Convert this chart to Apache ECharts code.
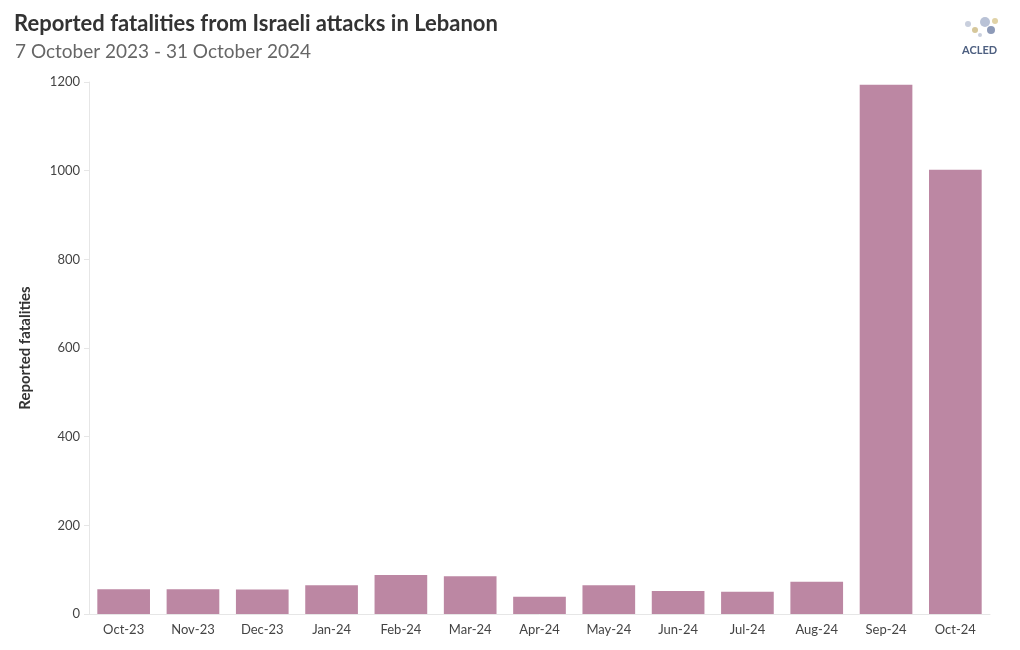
<!DOCTYPE html>
<html>
<head>
<meta charset="utf-8">
<script src="https://cdn.jsdelivr.net/npm/echarts@6/dist/echarts.min.js"></script>
<style>html,body{margin:0;padding:0;background:#fff;}#c{width:1020px;height:650px;}</style>
</head>
<body>
<div id="c"></div>
<script>
const categories = ['Oct-23','Nov-23','Dec-23','Jan-24','Feb-24','Mar-24','Apr-24','May-24','Jun-24','Jul-24','Aug-24','Sep-24','Oct-24'];
const fatalities = [56, 56, 55, 65, 88, 85, 39, 65, 52, 50, 73, 1194, 1002];
const yTicks = [0, 200, 400, 600, 800, 1000, 1200];

const chart = echarts.init(document.getElementById('c'));
chart.setOption({
  backgroundColor: '#ffffff',
  animation: false,
  title: [
    { text: 'Reported fatalities from Israeli attacks in Lebanon', left: 9, top: 8,
      textStyle: { fontFamily: 'Lato', fontWeight: 'bold', fontSize: 22, color: '#333333' } },
    { text: '7 October 2023 - 31 October 2024', left: 10, top: 37,
      textStyle: { fontFamily: 'Lato', fontWeight: 'normal', fontSize: 19, color: '#666666' } }
  ],
  graphic: [
    { type: 'text', left: 962, top: 45, style: { text: 'ACLED', font: 'bold 11px Lato', fill: '#4d5f80' } },
    { type: 'circle', shape: { cx: 968, cy: 24, r: 3 }, style: { fill: '#c9cfdd' } },
    { type: 'circle', shape: { cx: 975, cy: 30, r: 3 }, style: { fill: '#d6c79a' } },
    { type: 'circle', shape: { cx: 985, cy: 22, r: 5 }, style: { fill: '#b9c2d6' } },
    { type: 'circle', shape: { cx: 991, cy: 30, r: 4 }, style: { fill: '#8d9ab8' } },
    { type: 'circle', shape: { cx: 995, cy: 21, r: 3 }, style: { fill: '#e0d2a6' } },
    { type: 'circle', shape: { cx: 980, cy: 35, r: 2 }, style: { fill: '#c9cfdd' } }
  ],
  grid: { left: 89, right: 30, top: 82, bottom: 36, containLabel: false },
  xAxis: {
    type: 'category',
    data: categories,
    axisLine: { lineStyle: { color: '#e6e6e6' } },
    axisTick: { show: false },
    axisLabel: { color: '#444444', fontFamily: 'Lato', fontSize: 13, margin: 9 }
  },
  yAxis: {
    type: 'value',
    min: 0, max: 1200, interval: 200,
    name: 'Reported fatalities',
    nameLocation: 'middle',
    nameGap: 56,
    nameTextStyle: { fontFamily: 'Lato', fontWeight: 'bold', fontSize: 15, color: '#333333' },
    axisLine: { show: true, lineStyle: { color: '#e6e6e6' } },
    axisTick: { show: true, length: 5, lineStyle: { color: '#e6e6e6' } },
    axisLabel: { color: '#444444', fontFamily: 'Lato', fontSize: 13, margin: 9,
      formatter: v => yTicks.includes(v) ? String(v) : '' },
    splitLine: { show: false }
  },
  series: [{
    type: 'bar',
    data: fatalities,
    barWidth: '76%',
    itemStyle: { color: '#bc87a3' }
  }]
});
</script>
</body>
</html>
